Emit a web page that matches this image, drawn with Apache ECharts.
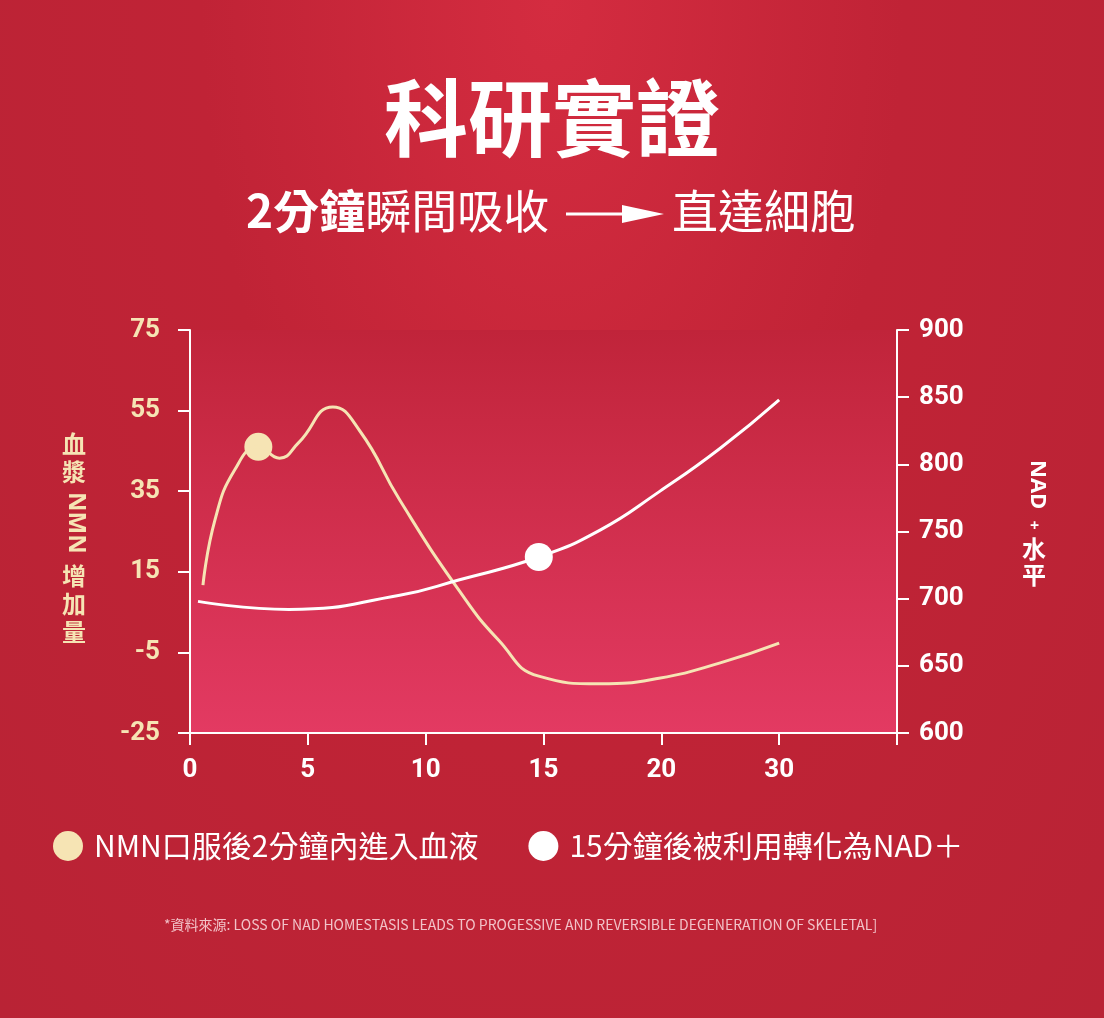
<!DOCTYPE html>
<html><head><meta charset="utf-8">
<script src="https://cdn.jsdelivr.net/npm/echarts@6/dist/echarts.min.js"></script>
<style>html,body{margin:0;padding:0;}body{width:1104px;height:1018px;background:radial-gradient(ellipse at 50% 0%,#d42c40 0%,#c02336 45%,#b92335 100%);}#c{width:1104px;height:1018px;}</style>
</head><body><div id="c"></div>
<script>
const xTickLabels = {0:'0',5:'5',10:'10',15:'15',20:'20',25:'30',30:''};
const leftTicks = [-25,-5,15,35,55,75];
const nmnCurve = [[0.55,11.7],[1.06,27.9],[1.9,40.3],[2.9,46],[3.8,43.2],[4.6,47],[6.06,55.9],[7.2,50],[8.9,32.8],[11.4,10.5],[13.1,-2],[14.8,-10.9],[17.4,-12.8],[19.9,-11.4],[22.5,-7.6],[25,-2.7]];
const nadCurve = [[0.34,698],[4.2,692],[8.9,702.6],[11.4,713.9],[14.8,731],[17.4,751],[19.9,779.5],[22.5,812],[25,848]];
const nmnMarker = [[2.9,46]];
const nadMarker = [[14.8,731]];
const OFF = 25;
const cream = '#f6e4b4';
const F = '"Noto Sans CJK TC"';
const chart = echarts.init(document.getElementById('c'));
chart.setOption({
  textStyle:{fontFamily:F},
  grid:{left:190,right:207,top:330,bottom:285,show:true,borderWidth:0,
    backgroundColor:new echarts.graphic.LinearGradient(0,0,0,1,[{offset:0,color:'#c0243a'},{offset:1,color:'#e33a62'}])},
  xAxis:{type:'value',min:0,max:30,interval:5,
    axisLine:{lineStyle:{color:'#fff',width:2}},axisTick:{length:12,lineStyle:{color:'#fff',width:2}},
    splitLine:{show:false},
    axisLabel:{color:'#fff',fontSize:26,fontWeight:'bold',fontFamily:'Roboto',margin:24,formatter:v=>xTickLabels[v]}},
  yAxis:[{type:'value',min:0,max:100,interval:20,position:'left',
    axisLine:{show:true,lineStyle:{color:'#fff',width:2}},axisTick:{show:true,inside:false,length:12,lineStyle:{color:'#fff',width:2}},
    splitLine:{show:false},
    axisLabel:{color:cream,fontSize:26,fontWeight:'bold',fontFamily:'Roboto',margin:30,formatter:v=>String(v-OFF)}},
   {type:'value',min:600,max:900,interval:50,position:'right',
    axisLine:{show:true,lineStyle:{color:'#fff',width:2}},axisTick:{show:true,length:12,lineStyle:{color:'#fff',width:2}},
    splitLine:{show:false},
    axisLabel:{color:'#fff',fontSize:26,fontWeight:'bold',fontFamily:'Roboto',margin:22}}],
  legend:{top:826,left:48,itemGap:50,itemWidth:30,itemHeight:30,icon:'circle',
    textStyle:{color:'#fff',fontSize:30,fontFamily:F,padding:[0,0,0,6]},
    data:['NMN口服後2分鐘內進入血液','15分鐘後被利用轉化為NAD＋']},
  series:[
    {type:'line',smooth:true,yAxisIndex:0,symbol:'none',lineStyle:{color:cream,width:3},data:nmnCurve.map(p=>[p[0],p[1]+OFF]),silent:true},
    {type:'line',smooth:true,yAxisIndex:1,symbol:'none',lineStyle:{color:'#fff',width:3},data:nadCurve,silent:true},
    {name:'NMN口服後2分鐘內進入血液',type:'scatter',yAxisIndex:0,symbolSize:28,itemStyle:{color:cream,opacity:1},data:nmnMarker.map(p=>[p[0],p[1]+OFF])},
    {name:'15分鐘後被利用轉化為NAD＋',type:'scatter',yAxisIndex:1,symbolSize:28,itemStyle:{color:'#fff',opacity:1},data:nadMarker}
  ],
  graphic:[
    {type:'text',left:'center',top:76,style:{text:'科研實證',fill:'#fff',font:'bold 84px "Noto Sans CJK TC"'}},
    {type:'text',left:246,top:188,style:{text:'{b|2分鐘}{r|瞬間吸收}',fill:'#fff',rich:{b:{font:'bold 46px "Noto Sans CJK TC"',fill:'#fff'},r:{font:'46px "Noto Sans CJK TC"',fill:'#fff'}}}},
    {type:'line',shape:{x1:566,y1:214,x2:630,y2:214},style:{stroke:'#fff',lineWidth:3}},
    {type:'polygon',shape:{points:[[622,205],[664,214],[622,223]]},style:{fill:'#fff'}},
    {type:'text',left:672,top:188,style:{text:'直達細胞',fill:'#fff',font:'46px "Noto Sans CJK TC"'}},
    {type:'text',x:62,y:430,style:{text:'血\n漿',fill:cream,font:'bold 24px "Noto Sans CJK TC"',lineHeight:28}},
    {type:'text',x:88,y:492,rotation:-Math.PI/2,style:{text:'NMN',fill:cream,font:'bold 24px "Noto Sans"'}},
    {type:'text',x:62,y:562,style:{text:'增\n加\n量',fill:cream,font:'bold 24px "Noto Sans CJK TC"',lineHeight:28}},
    {type:'text',x:1048,y:460,rotation:-Math.PI/2,style:{text:'NAD',fill:'#fff',font:'bold 22px "Noto Sans"'}},
    {type:'text',x:1030,y:518,style:{text:'+',fill:'#fff',font:'bold 16px "Noto Sans"'}},
    {type:'text',x:1022,y:536,style:{text:'水\n平',fill:'#fff',font:'bold 24px "Noto Sans CJK TC"',lineHeight:26}},
    {type:'text',left:164,top:918,style:{text:'*資料來源: LOSS OF NAD HOMESTASIS LEADS TO PROGESSIVE AND REVERSIBLE DEGENERATION OF SKELETAL]',fill:'#f2c2c8',font:'14px "Noto Sans CJK TC"'}}
  ]
});
</script></body></html>
